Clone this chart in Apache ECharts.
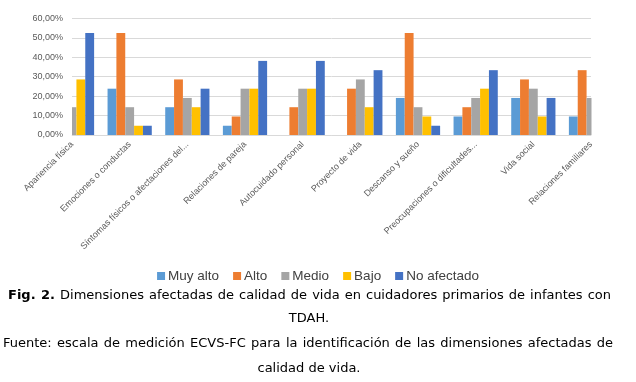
<!DOCTYPE html>
<html>
<head>
<meta charset="utf-8">
<script src="https://cdn.jsdelivr.net/npm/echarts@6/dist/echarts.min.js"></script>
<style>
html,body{margin:0;padding:0;background:#fff;}
#wrap{position:relative;width:636px;height:382px;overflow:hidden;}
#chart{position:absolute;left:0;top:0;width:636px;height:382px;}
.cap{position:absolute;font-family:"DejaVu Sans",Verdana,sans-serif;font-size:13px;color:#000;white-space:nowrap;line-height:16px;}
.just{text-align:justify;text-align-last:justify;}
.cen{text-align:center;left:0;width:618px;}
</style>
</head>
<body>
<div id="wrap">
<div id="chart"></div>
<div class="cap just" style="left:8px;width:603px;top:286.7px;"><b>Fig. 2.</b> Dimensiones afectadas de calidad de vida en cuidadores primarios de infantes con</div>
<div class="cap cen" style="top:310.3px;">TDAH.</div>
<div class="cap just" style="left:3px;width:610px;top:335.3px;">Fuente: escala de medición ECVS-FC para la identificación de las dimensiones afectadas de</div>
<div class="cap cen" style="top:360.3px;">calidad de vida.</div>
</div>
<script>
const categories = ["Apariencia física","Emociones o conductas","Síntomas físicos o afectaciones del...","Relaciones de pareja","Autocuidado personal","Proyecto de vida","Descanso y sueño","Preocupaciones o dificultades...","Vida social","Relaciones familiares"];
const seriesNames = ["Muy alto","Alto","Medio","Bajo","No afectado"];
const muyAlto    = [0, 23.81, 14.29, 4.76, 0, 0, 19.05, 9.52, 19.05, 9.52];
const alto       = [0, 52.38, 28.57, 9.52, 14.29, 23.81, 52.38, 14.29, 28.57, 33.33];
const medio      = [14.29, 14.29, 19.05, 23.81, 23.81, 28.57, 14.29, 19.05, 23.81, 19.05];
const bajo       = [28.57, 4.76, 14.29, 23.81, 23.81, 14.29, 9.52, 23.81, 9.52, 14.29];
const noAfectado = [52.38, 4.76, 23.81, 38.10, 38.10, 33.33, 4.76, 33.33, 19.05, 23.81];
const yTicks = [0, 10, 20, 30, 40, 50, 60];
const colors = ["#5B9BD5","#ED7D31","#A5A5A5","#FFC000","#4472C4"];

const W = 636, H = 382;
const gridL = 72, gridR = 45, gridT = 18.3, gridB = 247;
const allData = [muyAlto, alto, medio, bajo, noAfectado];
const chart = echarts.init(document.getElementById('chart'), null, {renderer:'canvas'});
chart.setOption({
  animation:false,
  color: colors,
  grid:{left:gridL, right:gridR, top:gridT, bottom:gridB},
  legend:{
    data: seriesNames,
    left:'center', top:264,
    itemWidth:8, itemHeight:8, itemGap:14,
    icon:'rect',
    textStyle:{fontFamily:'"Liberation Sans",Arial,sans-serif', fontSize:13.5, color:'#404040', padding:[0,0,0,-2]}
  },
  xAxis:{
    type:'category', data: categories, boundaryGap:false,
    axisLine:{show:true, lineStyle:{color:'#d9d9d9', width:1}},
    axisTick:{show:false},
    splitLine:{show:false},
    axisLabel:{interval:0, rotate:45, margin:8, fontSize:9, color:'#595959', fontFamily:'"Liberation Sans",Arial,sans-serif'}
  },
  yAxis:{
    type:'value', min:yTicks[0], max:yTicks[yTicks.length-1], interval:10,
    axisLine:{show:false}, axisTick:{show:false},
    splitLine:{lineStyle:{color:'#d9d9d9', width:1}},
    axisLabel:{margin:9, fontSize:9, color:'#595959', fontFamily:'"Liberation Sans",Arial,sans-serif',
      formatter: v => v.toFixed(2).replace('.', ',') + '%'}
  },
  // white masks clipping the bars at the plot edges (chart is cropped at first/last category centre)
  graphic:[
    {type:'rect', z:100, shape:{x:gridL-8, y:0, width:8, height:H-gridB+0.5}, style:{fill:'#fff'}},
    {type:'rect', z:100, shape:{x:W-gridR+0.5, y:0, width:gridR, height:H-gridB+0.5}, style:{fill:'#fff'}}
  ],
  series: seriesNames.map((n,i)=>({
    name:n, type:'bar', data: allData[i],
    barGap:'0%', barCategoryGap:'23.3%'
  }))
});
</script>
</body>
</html>
